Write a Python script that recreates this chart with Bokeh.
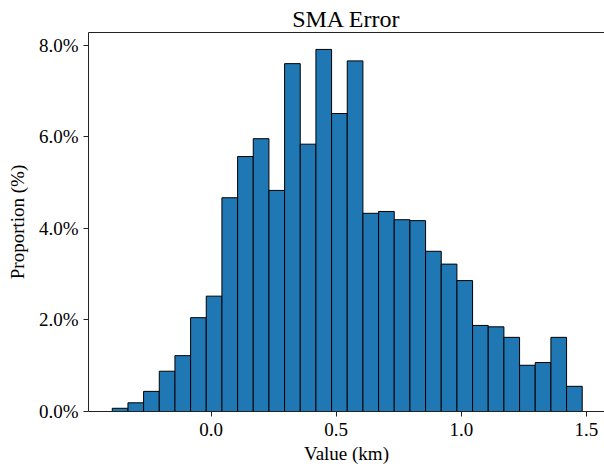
from bokeh.plotting import figure
from bokeh.models import LinearAxis, FixedTicker, PrintfTickFormatter, Range1d
from bokeh.embed import file_html
from bokeh.resources import INLINE
import numpy as np

# Histogram data (proportion in % per bin)
bin_min = -0.395
bin_max = 1.483
proportions = [0.07, 0.19, 0.44, 0.88, 1.22, 2.05, 2.52, 4.67, 5.57, 5.96,
               4.83, 7.60, 5.84, 7.91, 6.51, 7.66, 4.33, 4.37, 4.19, 4.17,
               3.50, 3.22, 2.86, 1.88, 1.85, 1.62, 1.01, 1.07, 1.62, 0.55]
x_ticks = [0.0, 0.5, 1.0, 1.5]
y_ticks = [0, 2, 4, 6, 8]
title_text = "SMA Error"
x_label = "Value (km)"
y_label = "Proportion (%)"

edges = np.linspace(bin_min, bin_max, len(proportions) + 1)

FONT = "Liberation Serif"

p = figure(width=604, height=466, output_backend="svg", toolbar_location=None,
           x_range=Range1d(-0.49, 1.572), y_range=Range1d(0, 8.28),
           min_border_left=88, min_border_right=0, min_border_bottom=55,
           min_border_top=32, background_fill_color="white",
           border_fill_color="white")
p.outline_line_color = None
p.grid.visible = False

p.quad(left=edges[:-1], right=edges[1:], top=proportions, bottom=0,
       fill_color="#1f77b4", line_color="black", line_width=1)

p.title.text = title_text
p.title.align = "center"
p.title.text_font = FONT
p.title.text_font_size = "24px"
p.title.text_font_style = "normal"
p.title.text_color = "black"
p.title.standoff = 1

for ax in (p.xaxis[0], p.yaxis[0]):
    ax.axis_line_color = "#222222"
    ax.axis_line_width = 1
    ax.major_tick_line_color = "#222222"
    ax.major_tick_out = 5
    ax.major_tick_in = 0
    ax.minor_tick_line_color = None
    ax.major_label_text_font = FONT
    ax.major_label_text_font_size = "19px"
    ax.major_label_text_color = "black"
    ax.axis_label_text_font = FONT
    ax.axis_label_text_font_size = "19px"
    ax.axis_label_text_font_style = "normal"
    ax.axis_label_text_color = "black"

p.xaxis.ticker = FixedTicker(ticks=x_ticks)
p.xaxis.formatter = PrintfTickFormatter(format="%.1f")
p.xaxis.axis_label = x_label
p.xaxis.major_label_standoff = 6
p.xaxis.axis_label_standoff = 4

p.yaxis.ticker = FixedTicker(ticks=y_ticks)
p.yaxis.formatter = PrintfTickFormatter(format="%.1f%%")
p.yaxis.axis_label = y_label
p.yaxis.major_label_standoff = 5
p.yaxis.axis_label_standoff = 8

top = LinearAxis(ticker=FixedTicker(ticks=[]), major_tick_out=0, major_tick_in=0,
                 minor_tick_out=0, minor_tick_in=0, major_label_standoff=0,
                 axis_line_color="#222222", axis_line_width=1)
top.major_label_text_font_size = "0px"
p.add_layout(top, "above")

open("out.html", "w").write(file_html(p, INLINE))
